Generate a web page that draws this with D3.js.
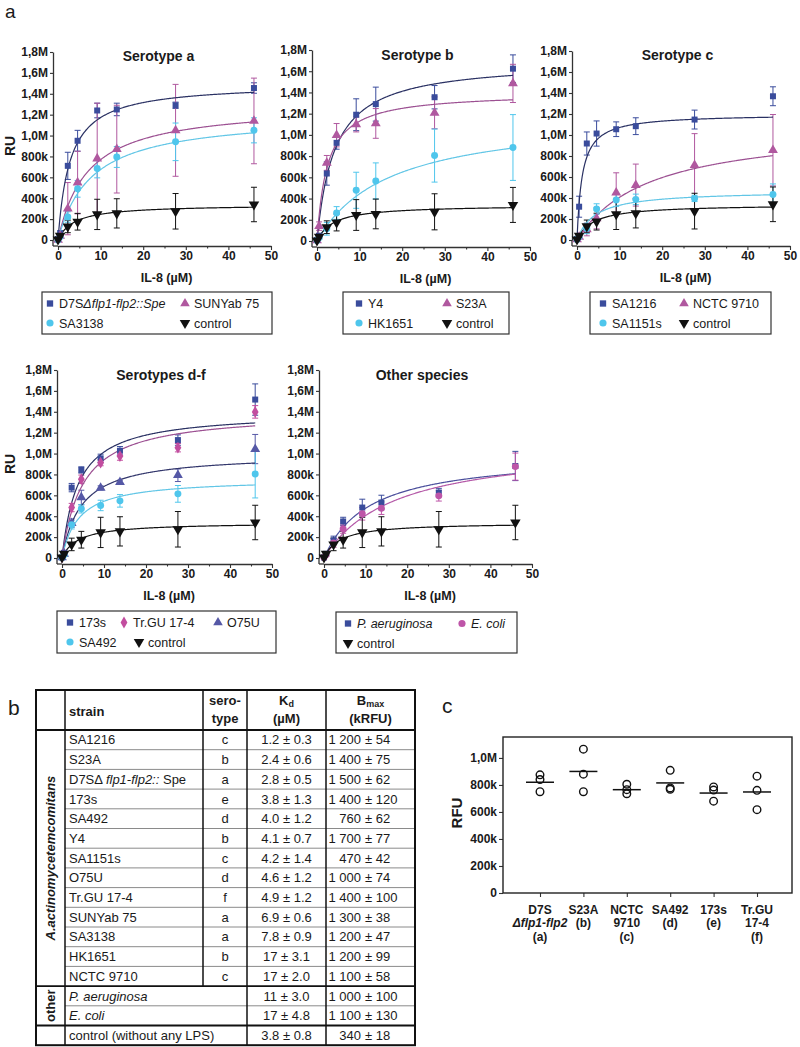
<!DOCTYPE html>
<html><head><meta charset="utf-8">
<script src="https://cdn.jsdelivr.net/npm/d3@7"></script>
<style>body{margin:0;background:#fff} svg{display:block;background:#fff} text{font-family:"Liberation Sans",Arial,Helvetica,sans-serif;fill:#1a1a1a}</style>
</head><body><svg id="c" width="800" height="1047"></svg>
<script>
// ---------- DATA ----------
const conc = [0, 0.5, 2.3, 4.6, 9.2, 13.8, 27.6, 46];           // IL-8 (µM)
const yTicks = [0,200,400,600,800,1000,1200,1400,1600,1800];      // kRU
const yTickLabels = ["0","200k","400k","600k","800k","1,0M","1,2M","1,4M","1,6M","1,8M"];
const xTicks = [0,10,20,30,40,50];

// means and SD in kRU
const control   = [5, 40, 130, 175, 245, 255, 275, 340];
const controlSD = [5, 20, 60, 80, 145, 140, 170, 165];
// serotype a
const d7s      = [10, 60, 710, 950, 1240, 1250, 1290, 1455];
const d7sSD    = [5, 30, 130, 100, 70, 60, 30, 50];
const sunyab   = [0, 40, 300, 550, 780, 870, 1050, 1140];
const sunyabSD = [0, 20, 250, 300, 530, 420, 440, 410];
const sa3138   = [0, 30, 220, 490, 685, 795, 940, 1050];
const sa3138SD = [0, 15, 50, 80, 90, 100, 180, 120];
// serotype b
const y4       = [10, 50, 636, 925, 1190, 1290, 1355, 1624];
const y4SD     = [5, 20, 110, 60, 150, 160, 110, 130];
const s23a     = [5, 140, 736, 997, 1098, 1108, 1208, 1485];
const s23aSD   = [5, 40, 70, 110, 70, 140, 150, 180];
const hk1651   = [5, 30, 115, 264, 478, 566, 805, 881];
const hk1651SD = [5, 15, 60, 60, 170, 170, 250, 310];
// serotype c
const sa1216   = [10, 317, 919, 1014, 1055, 1084, 1147, 1369];
const sa1216SD = [5, 100, 110, 120, 70, 80, 90, 90];
const nctc     = [5, 30, 100, 206, 450, 523, 713, 855];
const nctcSD   = [5, 15, 60, 100, 190, 200, 300, 340];
const sa1151   = [5, 30, 110, 295, 380, 387, 396, 434];
const sa1151SD = [5, 15, 50, 50, 60, 50, 30, 100];
// serotypes d-f
const s173     = [5, 50, 674, 843, 954, 1027, 1129, 1517];
const s173SD   = [5, 20, 40, 30, 40, 40, 50, 150];
const trgu     = [5, 40, 483, 754, 913, 976, 1056, 1399];
const trguSD   = [5, 20, 40, 40, 30, 40, 40, 60];
const o75u     = [5, 40, 334, 579, 671, 725, 792, 1043];
const o75uSD   = [5, 20, 40, 70, 20, 20, 60, 140];
const sa492    = [5, 30, 318, 471, 503, 547, 614, 805];
const sa492SD  = [5, 15, 40, 40, 50, 60, 80, 230];
// other species
const paer     = [5, 40, 169, 350, 483, 531, 627, 881];
const paerSD   = [5, 20, 40, 40, 80, 70, 40, 140];
const ecoli    = [5, 30, 143, 277, 423, 477, 595, 875];
const ecoliSD  = [5, 15, 40, 40, 60, 60, 50, 130];

// table b
const tblKeys    = ["SA1216","S23A","D7S","173s","SA492","Y4","SA1151s","O75U","Tr.GU 17-4","SUNYab 75","SA3138","HK1651","NCTC 9710","P. aeruginosa","E. coli","control"];
const tblSerotype= ["c","b","a","e","d","b","c","d","f","a","a","b","c","","",""];
const kdVal      = [1.2,2.4,2.8,3.8,4.0,4.1,4.2,4.6,4.9,6.9,7.8,17,17,11,17,3.8];
const kdLabel    = ["1.2","2.4","2.8","3.8","4.0","4.1","4.2","4.6","4.9","6.9","7.8","17","17","11","17","3.8"];
const kdErr      = ["0.3","0.6","0.5","1.3","1.2","0.7","1.4","1.2","1.2","0.6","0.9","3.1","2.0","3.0","4.8","0.8"];
const bmaxVal    = [1200,1400,1500,1400,760,1700,470,1000,1400,1300,1200,1200,1100,1000,1100,340];
const bmaxErr    = [54,75,62,120,62,77,42,74,100,38,47,99,58,100,130,18];

// panel c
const cCats  = ["D7S","S23A","NCTC 9710","SA492","173s","Tr.GU 17-4"];
const cReps  = [[875,840,750],[1065,880,750],[805,765,735],[908,778,768],[785,762,680],[865,760,617]];
const cMeans = [820,900,765,815,740,748];
const cTicks = [0,200,400,600,800,1000];
const cTickLabels = ["0","200k","400k","600k","800k","1,0M"];

// ---------- STYLE ----------
const navy="#3a4c9c", navyLine="#2a3163", mauve="#b0589f", mauveLine="#9c5092",
      cyan="#4fc6ec", cyanLine="#62c6e6", magenta="#c24d9f", slate="#5558a6", slateLine="#33376c",
      black="#111";
const FONT='"Liberation Sans",Arial,sans-serif';

const svg = d3.select("#c");
svg.append("rect").attr("width",800).attr("height",1047).attr("fill","#fff");

function symPath(type, size){
  const map={square:d3.symbolSquare,circle:d3.symbolCircle,triangle:d3.symbolTriangle,diamond:d3.symbolDiamond,down:d3.symbolTriangle};
  const sizes={square:36,circle:38,triangle:42,diamond:40,down:48};
  return d3.symbol().type(map[type]).size(size||sizes[type])();
}
function drawSym(g, type, cx, cy, color, size){
  g.append("path").attr("d",symPath(type,size))
    .attr("transform",`translate(${cx},${cy})${type==="down"?" rotate(180)":""}`)
    .attr("fill",color);
}
function richText(g, x, y, parts, opts){
  const t = g.append("text").attr("x",x).attr("y",y)
    .attr("font-size",opts.size||12).attr("font-weight",opts.weight||"normal")
    .attr("text-anchor",opts.anchor||"start");
  parts.forEach(p=>{ t.append("tspan").text(p[0]).attr("font-style",p[1]?"italic":"normal"); });
  return t;
}

const panels = [
 {title:"Serotype a", xr:[58,271], yr:[240,52], titleY:61, ru:true,
  series:[
   {key:"D7S", mean:d7s, sd:d7sSD, color:navy, line:navyLine, sym:"square"},
   {key:"SUNYab 75", mean:sunyab, sd:sunyabSD, color:mauve, line:mauveLine, sym:"triangle"},
   {key:"SA3138", mean:sa3138, sd:sa3138SD, color:cyan, line:cyanLine, sym:"circle"},
   {key:"control", mean:control, sd:controlSD, color:black, line:black, sym:"down"}],
  legend:{box:[42,292,272,334], items:[
   {parts:[["D7S",0],["Δflp1-flp2::Spe",1]], sym:"square", color:navy, x:50, row:0},
   {parts:[["SUNYab 75",0]], sym:"triangle", color:mauve, x:185, row:0},
   {parts:[["SA3138",0]], sym:"circle", color:cyan, x:50, row:1},
   {parts:[["control",0]], sym:"down", color:black, x:185, row:1}]}},
 {title:"Serotype b", xr:[317,530], yr:[241,50], titleY:60, ru:false,
  series:[
   {key:"Y4", mean:y4, sd:y4SD, color:navy, line:navyLine, sym:"square"},
   {key:"S23A", mean:s23a, sd:s23aSD, color:mauve, line:mauveLine, sym:"triangle"},
   {key:"HK1651", mean:hk1651, sd:hk1651SD, color:cyan, line:cyanLine, sym:"circle"},
   {key:"control", mean:control, sd:controlSD, color:black, line:black, sym:"down"}],
  legend:{box:[343,292,509,334], items:[
   {parts:[["Y4",0]], sym:"square", color:navy, x:359, row:0},
   {parts:[["S23A",0]], sym:"triangle", color:mauve, x:447, row:0},
   {parts:[["HK1651",0]], sym:"circle", color:cyan, x:359, row:1},
   {parts:[["control",0]], sym:"down", color:black, x:447, row:1}]}},
 {title:"Serotype c", xr:[577,790], yr:[240,51], titleY:60, ru:false,
  series:[
   {key:"SA1216", mean:sa1216, sd:sa1216SD, color:navy, line:navyLine, sym:"square"},
   {key:"NCTC 9710", mean:nctc, sd:nctcSD, color:mauve, line:mauveLine, sym:"triangle"},
   {key:"SA1151s", mean:sa1151, sd:sa1151SD, color:cyan, line:cyanLine, sym:"circle"},
   {key:"control", mean:control, sd:controlSD, color:black, line:black, sym:"down"}],
  legend:{box:[590,292,771,334], items:[
   {parts:[["SA1216",0]], sym:"square", color:navy, x:603, row:0},
   {parts:[["NCTC 9710",0]], sym:"triangle", color:mauve, x:684, row:0},
   {parts:[["SA1151s",0]], sym:"circle", color:cyan, x:603, row:1},
   {parts:[["control",0]], sym:"down", color:black, x:684, row:1}]}},
 {title:"Serotypes d-f", xr:[62,272], yr:[558,370], titleY:380, ru:true,
  series:[
   {key:"173s", mean:s173, sd:s173SD, color:navy, line:navyLine, sym:"square"},
   {key:"Tr.GU 17-4", mean:trgu, sd:trguSD, color:magenta, line:mauveLine, sym:"diamond"},
   {key:"O75U", mean:o75u, sd:o75uSD, color:slate, line:slateLine, sym:"triangle"},
   {key:"SA492", mean:sa492, sd:sa492SD, color:cyan, line:cyanLine, sym:"circle"},
   {key:"control", mean:control, sd:controlSD, color:black, line:black, sym:"down"}],
  legend:{box:[57,611,276,653], items:[
   {parts:[["173s",0]], sym:"square", color:navy, x:70, row:0},
   {parts:[["Tr.GU 17-4",0]], sym:"diamond", color:magenta, x:124, row:0},
   {parts:[["O75U",0]], sym:"triangle", color:slate, x:218, row:0},
   {parts:[["SA492",0]], sym:"circle", color:cyan, x:70, row:1},
   {parts:[["control",0]], sym:"down", color:black, x:139, row:1}]}},
 {title:"Other species", xr:[324,532], yr:[558,370], titleY:380, ru:false,
  series:[
   {key:"P. aeruginosa", mean:paer, sd:paerSD, color:navy, line:"#4b4f9c", sym:"square"},
   {key:"E. coli", mean:ecoli, sd:ecoliSD, color:"#be55a8", line:"#b55aa8", sym:"circle"},
   {key:"control", mean:control, sd:controlSD, color:black, line:black, sym:"down"}],
  legend:{box:[336,612,517,653], items:[
   {parts:[["P. aeruginosa",1]], sym:"square", color:navy, x:348, row:0},
   {parts:[["E. coli",1]], sym:"circle", color:"#be55a8", x:462, row:0},
   {parts:[["control",0]], sym:"down", color:black, x:348, row:1}]}}
];

panels.forEach(p=>{
  const g = svg.append("g");
  const x = d3.scaleLinear().domain([0,50]).range(p.xr);
  const y = d3.scaleLinear().domain([0,1800]).range(p.yr);
  const axX = p.xr[0]-5, axY = p.yr[0]+6;
  g.append("g").attr("transform",`translate(${axX},0)`)
    .call(d3.axisLeft(y).tickValues(yTicks).tickFormat((d,i)=>yTickLabels[i]).tickSize(3).tickPadding(2).tickSizeOuter(0));
  g.append("g").attr("transform",`translate(0,${axY})`)
    .call(d3.axisBottom(x).tickValues(xTicks).tickSize(4).tickPadding(1).tickSizeOuter(0));
  g.append("g").attr("transform",`translate(0,${axY})`)
    .call(d3.axisBottom(x).tickValues([5,15,25,35,45]).tickSize(2.5).tickFormat("").tickSizeOuter(0))
    .select(".domain").remove();
  g.append("line").attr("x1",axX).attr("x2",p.xr[0]).attr("y1",axY).attr("y2",axY).attr("stroke","#333").attr("stroke-width",1.3);
  g.append("line").attr("x1",axX).attr("x2",axX).attr("y1",p.yr[0]).attr("y2",axY).attr("stroke","#333").attr("stroke-width",1.3);
  g.selectAll(".domain").attr("stroke","#333").attr("stroke-width",1.3);
  g.selectAll(".tick line").attr("stroke","#333").attr("stroke-width",1.1);
  g.selectAll(".tick text").attr("font-family",FONT).attr("font-size",12).attr("font-weight","bold").attr("fill","#1a1a1a");
  const cx = (p.xr[0]+p.xr[1])/2;
  g.append("text").attr("x",cx-6).attr("y",p.titleY).attr("text-anchor","middle")
    .attr("font-size",14).attr("font-weight","bold").text(p.title);
  g.append("text").attr("x",cx+2).attr("y",axY+36).attr("text-anchor","middle")
    .attr("font-size",12.5).attr("font-weight","bold").text("IL-8 (µM)");
  if(p.ru){
    const ym=(p.yr[0]+p.yr[1])/2;
    g.append("text").attr("transform",`translate(15,${ym}) rotate(-90)`).attr("text-anchor","middle")
      .attr("font-size",14).attr("font-weight","bold").text("RU");
  }
  const pts = conc.map((c,i)=>i);
  p.series.forEach(s=>{
    const eb = g.append("g").attr("stroke",s.color).attr("stroke-width",1);
    pts.forEach(i=>{
      const xx=x(conc[i]), lo=y(Math.max(0,s.mean[i]-s.sd[i])), hi=y(s.mean[i]+s.sd[i]);
      if(s.sd[i]<=5) return;
      eb.append("line").attr("x1",xx).attr("x2",xx).attr("y1",lo).attr("y2",hi);
      eb.append("line").attr("x1",xx-3).attr("x2",xx+3).attr("y1",hi).attr("y2",hi);
      eb.append("line").attr("x1",xx-3).attr("x2",xx+3).attr("y1",lo).attr("y2",lo);
    });
  });
  // fitted curves (one-site binding using the table's Kd / Bmax)
  p.series.forEach(s=>{
    const k = tblKeys.indexOf(s.key);
    const kd = kdVal[k], bm = bmaxVal[k];
    const xs = d3.range(0, 46.001, 0.2);
    g.append("path").datum(xs)
      .attr("d", d3.line().x(d=>x(d)).y(d=>y(bm*d/(kd+d))))
      .attr("fill","none").attr("stroke",s.line).attr("stroke-width",1.2);
  });
  p.series.forEach(s=>{
    pts.forEach(i=> drawSym(g, s.sym, x(conc[i]), y(s.mean[i]), s.color));
  });
  const L=p.legend, b=L.box;
  g.append("rect").attr("x",b[0]).attr("y",b[1]).attr("width",b[2]-b[0]).attr("height",b[3]-b[1])
    .attr("fill","#fff").attr("stroke","#333").attr("stroke-width",1.2);
  const rows=[b[1]+11.5, b[1]+31];
  L.items.forEach(it=>{
    drawSym(g, it.sym, it.x, rows[it.row], it.color, it.sym==="down"?48:40);
    richText(g, it.x+9, rows[it.row]+4.5, it.parts, {size:12.5});
  });
});

// panel letters
svg.append("text").attr("x",5).attr("y",18).attr("font-size",19).text("a");
svg.append("text").attr("x",8).attr("y",715).attr("font-size",21).text("b");
svg.append("text").attr("x",442).attr("y",713).attr("font-size",21).text("c");

// ---------- TABLE ----------
(function(){
  const g = svg.append("g");
  const X=[36,65,203,247,326,415], y0=690, yh=730, rh=19.7;
  const yEnd = yh+16*rh;
  const thin="#8a8a8a";
  const L=(x1,y1,x2,y2,w,c)=>g.append("line").attr("x1",x1).attr("y1",y1).attr("x2",x2).attr("y2",y2)
      .attr("stroke",c||"#111").attr("stroke-width",w);
  for(let i=1;i<16;i++){
    const yy=yh+i*rh;
    if(i===13||i===15) continue;
    L(X[1],yy,X[5],yy,1,thin);
  }
  L(X[0],yh+13*rh,X[5],yh+13*rh,1.8);
  L(X[0],yh+15*rh,X[5],yh+15*rh,1.8);
  L(X[0],yh,X[5],yh,1.8);
  L(X[1],y0,X[1],yEnd,1.5);
  L(X[2],y0,X[2],yh+13*rh,1.5);
  L(X[3],y0,X[3],yEnd,1.5);
  L(X[4],y0,X[4],yEnd,1.5);
  g.append("rect").attr("x",X[0]).attr("y",y0).attr("width",X[5]-X[0]).attr("height",yEnd-y0)
    .attr("fill","none").attr("stroke","#111").attr("stroke-width",2);
  const hb = (x,y,t,anchor)=>g.append("text").attr("x",x).attr("y",y).attr("text-anchor",anchor||"middle")
     .attr("font-size",13).attr("font-weight","bold").text(t);
  hb(X[1]+4,716,"strain","start");
  hb((X[2]+X[3])/2,705,"sero-"); hb((X[2]+X[3])/2,723,"type");
  const kt = g.append("text").attr("x",(X[3]+X[4])/2).attr("y",705).attr("text-anchor","middle").attr("font-size",13).attr("font-weight","bold");
  kt.append("tspan").text("K"); kt.append("tspan").text("d").attr("font-size",9).attr("dy",2);
  hb((X[3]+X[4])/2,723,"(µM)");
  const bt = g.append("text").attr("x",(X[4]+X[5])/2).attr("y",705).attr("text-anchor","middle").attr("font-size",13).attr("font-weight","bold");
  bt.append("tspan").text("B"); bt.append("tspan").text("max").attr("font-size",9).attr("dy",2);
  hb((X[4]+X[5])/2,723,"(kRFU)");
  g.append("text").attr("transform",`translate(55,${yh+6.5*rh}) rotate(-90)`).attr("text-anchor","middle")
    .attr("font-size",13).attr("font-weight","bold").attr("font-style","italic").text("A.actinomycetemcomitans");
  g.append("text").attr("transform",`translate(55,${yh+14*rh}) rotate(-90)`).attr("text-anchor","middle")
    .attr("font-size",13).attr("font-weight","bold").text("other");
  const fmtB = n => n>=1000 ? Math.floor(n/1000)+" "+String(n%1000).padStart(3,"0") : String(n);
  tblKeys.forEach((k,i)=>{
    const by = yh+i*rh+rh/2+4.6;
    let parts;
    if(k==="D7S") parts=[["D7SΔ ",0],["flp1-flp2::",1],[" Spe",0]];
    else if(k==="P. aeruginosa"||k==="E. coli") parts=[[k,1]];
    else if(k==="control") parts=[["control (without any LPS)",0]];
    else parts=[[k,0]];
    richText(g, X[1]+4, by, parts, {size:13});
    if(tblSerotype[i]) g.append("text").attr("x",(X[2]+X[3])/2).attr("y",by).attr("text-anchor","middle").attr("font-size",13).text(tblSerotype[i]);
    g.append("text").attr("x",(X[3]+X[4])/2).attr("y",by).attr("text-anchor","middle").attr("font-size",13).text(kdLabel[i]+" ± "+kdErr[i]);
    g.append("text").attr("x",361).attr("y",by).attr("text-anchor","end").attr("font-size",13).text(fmtB(bmaxVal[i]));
    g.append("text").attr("x",365).attr("y",by).attr("text-anchor","start").attr("font-size",13).text("± "+bmaxErr[i]);
  });
})();

// ---------- PANEL C ----------
(function(){
  const g = svg.append("g");
  const L=503, R=792, T=737, B=893;
  const y = d3.scaleLinear().domain([0,1155]).range([B,T]);
  const x = d3.scalePoint().domain(cCats).range([540,757]);
  g.append("g").attr("transform",`translate(${L},0)`)
    .call(d3.axisLeft(y).tickValues(cTicks).tickFormat((d,i)=>cTickLabels[i]).tickSize(4).tickPadding(2).tickSizeOuter(0));
  g.append("g").attr("transform",`translate(0,${B})`)
    .call(d3.axisBottom(x).tickSize(4).tickFormat("").tickSizeOuter(0));
  g.selectAll(".domain").remove();
  g.selectAll(".tick line").attr("stroke","#333").attr("stroke-width",1.1);
  g.selectAll(".tick text").attr("font-family",FONT).attr("font-size",12).attr("font-weight","bold").attr("fill","#1a1a1a");
  g.append("rect").attr("x",L).attr("y",T).attr("width",R-L).attr("height",B-T).attr("fill","none").attr("stroke","#222").attr("stroke-width",1.4);
  g.append("text").attr("transform",`translate(462,813) rotate(-90)`).attr("text-anchor","middle")
    .attr("font-size",15).attr("font-weight","bold").text("RFU");
  const labels = [
    [[["D7S",0]],[["Δflp1-flp2",1]],[["(a)",0]]],
    [[["S23A",0]],[["(b)",0]]],
    [[["NCTC",0]],[["9710",0]],[["(c)",0]]],
    [[["SA492",0]],[["(d)",0]]],
    [[["173s",0]],[["(e)",0]]],
    [[["Tr.GU",0]],[["17-4",0]],[["(f)",0]]]
  ];
  const lineY=[914,927,941];
  cCats.forEach((c,i)=>{
    const cx=x(c);
    labels[i].forEach((ln,j)=> richText(g, cx, lineY[j], ln, {size:12, weight:"bold", anchor:"middle"}));
    g.append("line").attr("x1",cx-14).attr("x2",cx+14).attr("y1",y(cMeans[i])).attr("y2",y(cMeans[i]))
      .attr("stroke","#111").attr("stroke-width",1.5);
    cReps[i].forEach(v=> g.append("circle").attr("cx",cx).attr("cy",y(v)).attr("r",3.8)
      .attr("fill","none").attr("stroke","#111").attr("stroke-width",1.4));
  });
})();
</script></body></html>
